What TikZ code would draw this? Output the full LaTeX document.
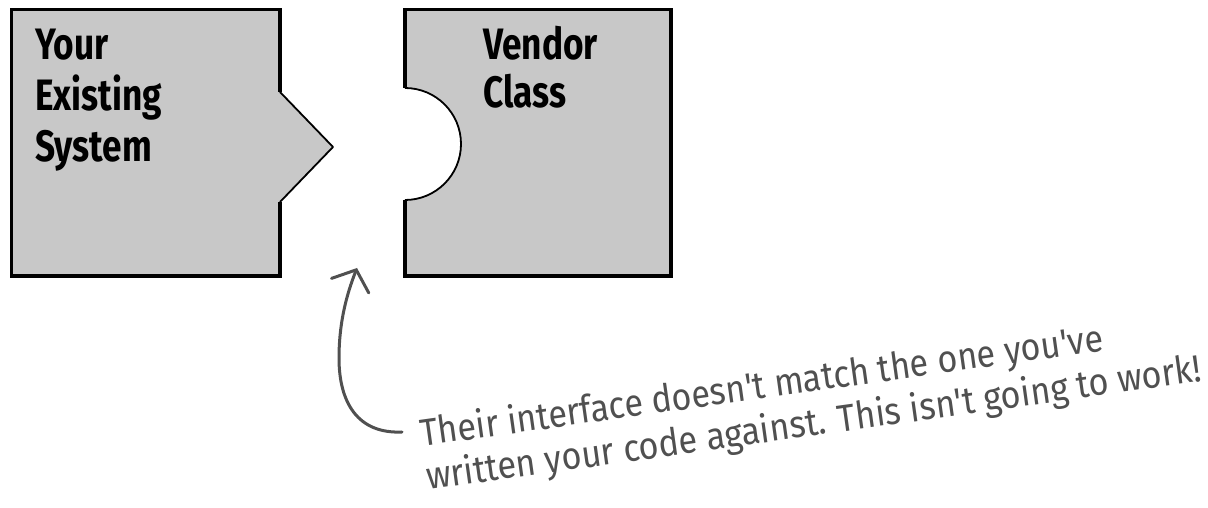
\documentclass[tikz,border=0pt]{standalone}
\usepackage{fontspec}
\setmainfont{Fira Sans}
\newfontfamily\handfont{Fira Sans}
\usetikzlibrary{arrows.meta}
\definecolor{boxgray}{HTML}{C8C8C8}
\definecolor{inkgray}{HTML}{505050}
\tikzset{
  boxfill/.style={fill=boxgray, draw=none},
  thickedge/.style={draw=black, line width=3.6pt, line join=miter},
  thinedge/.style={draw=black, line width=1.8pt, line join=round},
  boxlabel/.style={anchor=base west, align=left, inner sep=0pt,
    font=\fontsize{44}{51}\selectfont\bfseries},
  handnote/.style={anchor=base west, align=left, inner sep=0pt, text=inkgray,
    font=\handfont\fontsize{38}{44}\selectfont},
  pointer/.style={draw=inkgray, line width=3pt, line cap=round,
    -{Straight Barb[length=17pt 0 0, width=40pt 0 0, line cap=round]}}
}
\begin{document}
\begin{tikzpicture}[x=1pt,y=1pt]
\useasboundingbox (0,0) rectangle (1208,508);
\fill[white] (0,0) rectangle (1208,508);
% left box
\path[boxfill] (11.5,498.5) -- (280,498.5) -- (280,416) -- (333,361) -- (280,306) -- (280,232) -- (11.5,232) -- cycle;
\draw[thickedge] (280,416) -- (280,498.5) -- (11.5,498.5) -- (11.5,232) -- (280,232) -- (280,306);
\draw[thinedge] (280,416) -- (333,361) -- (280,306);
% right box
\path[boxfill] (405,498.5) -- (671,498.5) -- (671,232) -- (405,232) -- (405,308) arc[start angle=-90, end angle=90, radius=56] -- cycle;
\draw[thickedge] (405,420) -- (405,498.5) -- (671,498.5) -- (671,232) -- (405,232) -- (405,308);
\draw[thinedge] (405,308) arc[start angle=-90, end angle=90, radius=56];
% labels (anchored at the baseline of the last line)
\node[boxlabel] (sys) at (35,346) {\scalebox{0.8}[1]{Your}\\\scalebox{0.8}[1]{Existing}\\\scalebox{0.8}[1]{System}};
\node[boxlabel] (vendor) at (483,400) {\scalebox{0.8}[1]{Vendor}\\[-3pt]\scalebox{0.8}[1]{Class}};
% note
\node[handnote, rotate=8] (note) at (428,18) {\resizebox{689pt}{\height}{Their interface doesn't match the one you've}\\\resizebox{782pt}{\height}{written your code against. This isn't going to work!}};
\coordinate (tail) at (402,76);
\coordinate (tip) at (357,240);
\draw[pointer] (tail) .. controls (358,74) and (339,105) .. (339,150) .. controls (339,192) and (350,222) .. (tip);
\end{tikzpicture}
\end{document}
